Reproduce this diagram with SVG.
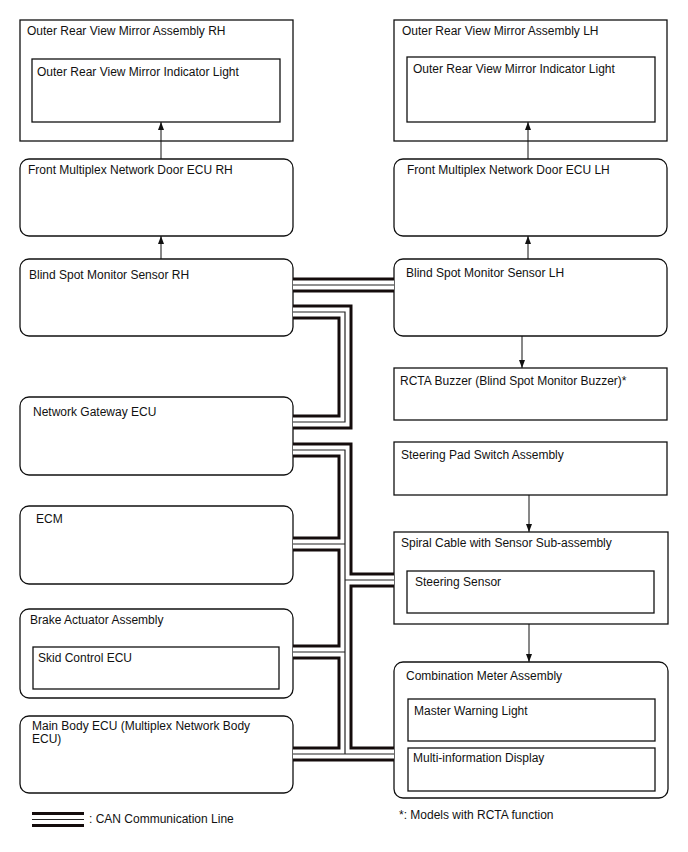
<svg xmlns="http://www.w3.org/2000/svg" xmlns:xlink="http://www.w3.org/1999/xlink" width="688" height="852" viewBox="0 0 688 852">
<style>
text{font-family:"Liberation Sans",Arial,sans-serif;font-size:12px;fill:#111}
.box{fill:#fff;stroke:#111;stroke-width:1.3}
.inner{fill:#fff;stroke:#111;stroke-width:1.3}
.arrow{stroke:#111;stroke-width:1;fill:none;marker-end:url(#ah)}
.canB{fill:none;stroke:#140c0c;stroke-width:15;stroke-linejoin:miter}
.canW{fill:none;stroke:#fff;stroke-width:9;stroke-linejoin:miter}
.canT{fill:none;stroke:#222;stroke-width:1.2;stroke-linejoin:miter}
</style>
<defs>
<marker id="ah" viewBox="0 0 8 8" refX="8" refY="4" markerWidth="8" markerHeight="8" markerUnits="userSpaceOnUse" orient="auto">
<path d="M0,1 L8,4 L0,7 Z" fill="#111"/>
</marker>
<path id="can" d="M293,285 H394 M293,312 H345 V422 H293 M293,450 H345 V754 M293,544 H345 M345,580 H394 M293,652 H345 M293,754 H394"/>
<path id="leg" d="M32,819.5 H84"/>
</defs>
<rect width="688" height="852" fill="#fff"/>

<g id="mirrorRH">
<rect class="box" x="20" y="20" width="273" height="121"/>
<text x="27" y="35">Outer Rear View Mirror Assembly RH</text>
<rect class="inner" x="32" y="59" width="248" height="63"/>
<text x="37" y="76">Outer Rear View Mirror Indicator Light</text>
</g>
<g id="doorRH">
<rect class="box" x="20" y="159" width="273" height="77" rx="9"/>
<text x="28" y="174">Front Multiplex Network Door ECU RH</text>
</g>
<g id="bsmRH">
<rect class="box" x="20" y="259" width="273" height="77" rx="9"/>
<text x="29" y="279">Blind Spot Monitor Sensor RH</text>
</g>
<g id="gateway">
<rect class="box" x="20" y="397" width="273" height="78" rx="9"/>
<text x="33" y="416">Network Gateway ECU</text>
</g>
<g id="ecm">
<rect class="box" x="20" y="506" width="273" height="78" rx="9"/>
<text x="36" y="523">ECM</text>
</g>
<g id="brake">
<rect class="box" x="20" y="609" width="273" height="89" rx="9"/>
<text x="30" y="624">Brake Actuator Assembly</text>
<rect class="inner" x="33" y="647" width="246" height="42"/>
<text x="38" y="662">Skid Control ECU</text>
</g>
<g id="mainBody">
<rect class="box" x="20" y="716" width="273" height="77" rx="9"/>
<text x="32" y="730">Main Body ECU (Multiplex Network Body</text>
<text x="32" y="743">ECU)</text>
</g>

<g id="mirrorLH">
<rect class="box" x="394" y="20" width="273" height="121"/>
<text x="402" y="35">Outer Rear View Mirror Assembly LH</text>
<rect class="inner" x="407" y="57" width="248" height="65"/>
<text x="413" y="73">Outer Rear View Mirror Indicator Light</text>
</g>
<g id="doorLH">
<rect class="box" x="394" y="159" width="273" height="77" rx="9"/>
<text x="407" y="174">Front Multiplex Network Door ECU LH</text>
</g>
<g id="bsmLH">
<rect class="box" x="394" y="259" width="273" height="77" rx="9"/>
<text x="406" y="277">Blind Spot Monitor Sensor LH</text>
</g>
<g id="rcta">
<rect class="box" x="394" y="368" width="273" height="52"/>
<text x="400" y="385">RCTA Buzzer (Blind Spot Monitor Buzzer)*</text>
</g>
<g id="steeringPad">
<rect class="box" x="394" y="442" width="273" height="53"/>
<text x="401" y="459">Steering Pad Switch Assembly</text>
</g>
<g id="spiral">
<rect class="box" x="394" y="532" width="274" height="92"/>
<text x="401" y="547">Spiral Cable with Sensor Sub-assembly</text>
<rect class="inner" x="407" y="571" width="247" height="42"/>
<text x="415" y="586">Steering Sensor</text>
</g>
<g id="combination">
<rect class="box" x="394" y="662" width="274" height="136" rx="9"/>
<text x="406" y="680">Combination Meter Assembly</text>
<rect class="inner" x="408" y="699" width="247" height="42"/>
<text x="414" y="715">Master Warning Light</text>
<rect class="inner" x="408" y="748" width="247" height="43"/>
<text x="413" y="762">Multi-information Display</text>
</g>

<g id="connectors">
<use xlink:href="#can" class="canB"/>
<use xlink:href="#can" class="canW"/>
<use xlink:href="#can" class="canT"/>
<line class="arrow" x1="161" y1="159" x2="161" y2="122"/>
<line class="arrow" x1="161" y1="259" x2="161" y2="236"/>
<line class="arrow" x1="528" y1="159" x2="528" y2="122"/>
<line class="arrow" x1="528" y1="259" x2="528" y2="236"/>
<line class="arrow" x1="522" y1="336" x2="522" y2="368"/>
<line class="arrow" x1="529" y1="495" x2="529" y2="532"/>
<line class="arrow" x1="529" y1="624" x2="529" y2="662"/>
</g>

<g id="legend">
<use xlink:href="#leg" class="canB"/>
<use xlink:href="#leg" class="canW"/>
<use xlink:href="#leg" class="canT"/>
<text x="89" y="823">: CAN Communication Line</text>
<text x="399" y="819">*: Models with RCTA function</text>
</g>
</svg>
